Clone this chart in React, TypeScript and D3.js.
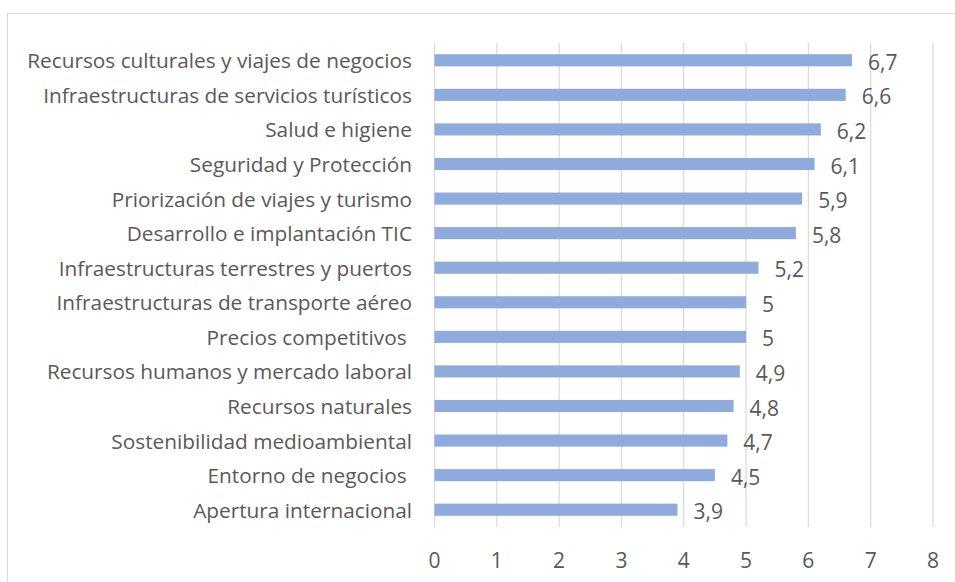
import React from "react";
import * as d3 from "d3";

// categories top to bottom, as in the reference
const categories = [
  "Recursos culturales y viajes de negocios",
  "Infraestructuras de servicios turísticos",
  "Salud e higiene",
  "Seguridad y Protección",
  "Priorización de viajes y turismo",
  "Desarrollo e implantación TIC",
  "Infraestructuras terrestres y puertos",
  "Infraestructuras de transporte aéreo",
  "Precios competitivos ",
  "Recursos humanos y mercado laboral",
  "Recursos naturales",
  "Sostenibilidad medioambiental",
  "Entorno de negocios ",
  "Apertura internacional",
];

const values = [6.7, 6.6, 6.2, 6.1, 5.9, 5.8, 5.2, 5, 5, 4.9, 4.8, 4.7, 4.5, 3.9];
const valueLabels = ["6,7", "6,6", "6,2", "6,1", "5,9", "5,8", "5,2", "5", "5", "4,9", "4,8", "4,7", "4,5", "3,9"];
const xTicks = [0, 1, 2, 3, 4, 5, 6, 7, 8];

const width = 955;
const height = 582;
const plot = { left: 434.5, right: 933, top: 43, bottom: 527 };

const textColor = "#595959";
const gridColor = "#D9D9D9";
const barColor = "#8FAADC";
const font = "'Open Sans', sans-serif";

export default function App() {
  const x = d3.scaleLinear().domain([0, 8]).range([plot.left, plot.right]);
  const y = d3
    .scaleBand<string>()
    .domain(categories)
    .range([plot.top, plot.bottom])
    .paddingInner(0.65)
    .paddingOuter(0.325);

  return (
    <svg
      width={width}
      height={height}
      style={{ position: "absolute", left: 0, top: 0, background: "#fff" }}
      fontFamily={font}
    >
      {/* chart border */}
      <rect x={7.5} y={13.5} width={width + 10} height={height + 10} fill="none" stroke={gridColor} />

      {/* vertical gridlines */}
      {xTicks.map((t) => (
        <line
          key={"g" + t}
          x1={x(t)}
          x2={x(t)}
          y1={plot.top}
          y2={plot.bottom}
          stroke={gridColor}
          strokeWidth={1.2}
        />
      ))}

      {/* bars */}
      {categories.map((c, i) => (
        <rect
          key={"b" + i}
          x={x(0)}
          y={y(c)}
          width={x(values[i]) - x(0)}
          height={y.bandwidth()}
          fill={barColor}
        />
      ))}

      {/* value labels */}
      {categories.map((c, i) => (
        <text
          key={"v" + i}
          x={x(values[i]) + 16}
          y={(y(c) ?? 0) + y.bandwidth() / 2 + 1.5}
          dominantBaseline="central"
          fontSize={21}
          fill={textColor}
        >
          {valueLabels[i]}
        </text>
      ))}

      {/* category labels */}
      {categories.map((c, i) => (
        <text
          key={"c" + i}
          x={412}
          y={(y(c) ?? 0) + y.bandwidth() / 2}
          dominantBaseline="central"
          textAnchor="end"
          fontSize={20.8}
          fill={textColor}
          style={{ whiteSpace: "pre" }}
        >
          {c}
        </text>
      ))}

      {/* x tick labels */}
      {xTicks.map((t) => (
        <text
          key={"t" + t}
          x={x(t)}
          y={560}
          dominantBaseline="central"
          textAnchor="middle"
          fontSize={21}
          fill={textColor}
        >
          {t}
        </text>
      ))}
    </svg>
  );
}
